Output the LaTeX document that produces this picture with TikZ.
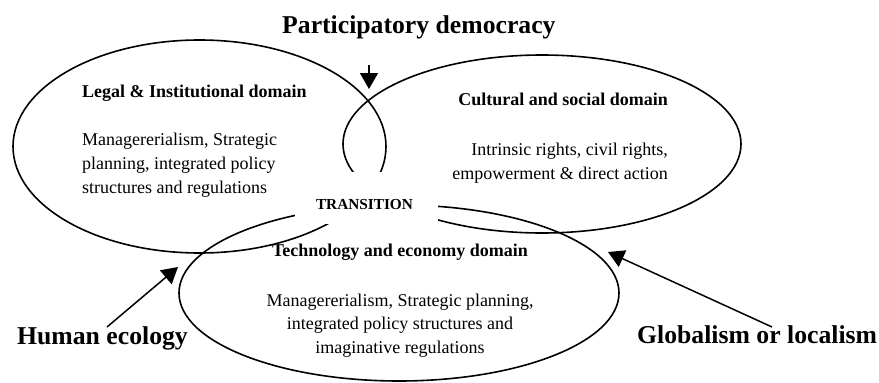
\documentclass[tikz,border=0pt]{standalone}
\usepackage{fontspec}
\setmainfont{Liberation Serif}
\usetikzlibrary{arrows.meta}
\begin{document}
\begin{tikzpicture}[x=1pt,y=-1pt,
  domainline/.style={draw,line width=1.6pt},
  big/.style={font=\bfseries\fontsize{25.7}{30}\selectfont, inner sep=0pt},
  ttl/.style={font=\bfseries\fontsize{18}{23.5}\selectfont, inner sep=0pt},
  body/.style={font=\fontsize{18}{23.5}\selectfont, inner sep=0pt},
  pointer/.style={line width=1.5pt, -{Triangle[length=16pt,width=18pt]}}]
\useasboundingbox (0,0) rectangle (879,383);
% domains
\draw[domainline] (199.5,146.5) ellipse [x radius=186.5pt, y radius=106.5pt];
\draw[domainline] (542,144) ellipse [x radius=199pt, y radius=89pt];
\draw[domainline] (399,293) ellipse [x radius=220pt, y radius=88pt];
% transition window
\fill[white] (295,172) rectangle (438,224);
\node[font=\bfseries\fontsize{15.3}{18}\selectfont, inner sep=0pt, anchor=base] (transition) at (364.5,209) {TRANSITION};
% domain texts (base anchor = baseline of the last line)
\node[ttl, anchor=base west] (legalT) at (82,97) {Legal \& Institutional domain};
\node[body, font=\fontsize{18}{24}\selectfont, anchor=base west, align=left] (legalB) at (82,193) {Managererialism, Strategic\\planning, integrated policy\\structures and regulations};
\node[ttl, anchor=base east] (cultT) at (668,105) {Cultural and social domain};
\node[body, anchor=base east, align=right] (cultB) at (668,179) {Intrinsic rights, civil rights,\\empowerment \& direct action};
\node[ttl, anchor=base] (techT) at (400,256) {Technology and economy domain};
\node[body, anchor=base, align=center] (techB) at (400,353) {Managererialism, Strategic planning,\\integrated policy structures and\\imaginative regulations};
% forces
\node[big, anchor=base west] (pd) at (282,33) {Participatory democracy};
\node[big, anchor=base west] (he) at (17,344) {Human ecology};
\node[big, anchor=base west] (gl) at (637,343) {Globalism or localism};
\coordinate (pdtail) at (369,65);
\coordinate (pdtip) at (369,89);
\coordinate (hetail) at (107,327);
\coordinate (hetip) at (178,267);
\coordinate (gltail) at (772,327);
\coordinate (gltip) at (608,252);
\draw[pointer] (pdtail) -- (pdtip);
\draw[pointer] (hetail) -- (hetip);
\draw[pointer] (gltail) -- (gltip);
\end{tikzpicture}
\end{document}
